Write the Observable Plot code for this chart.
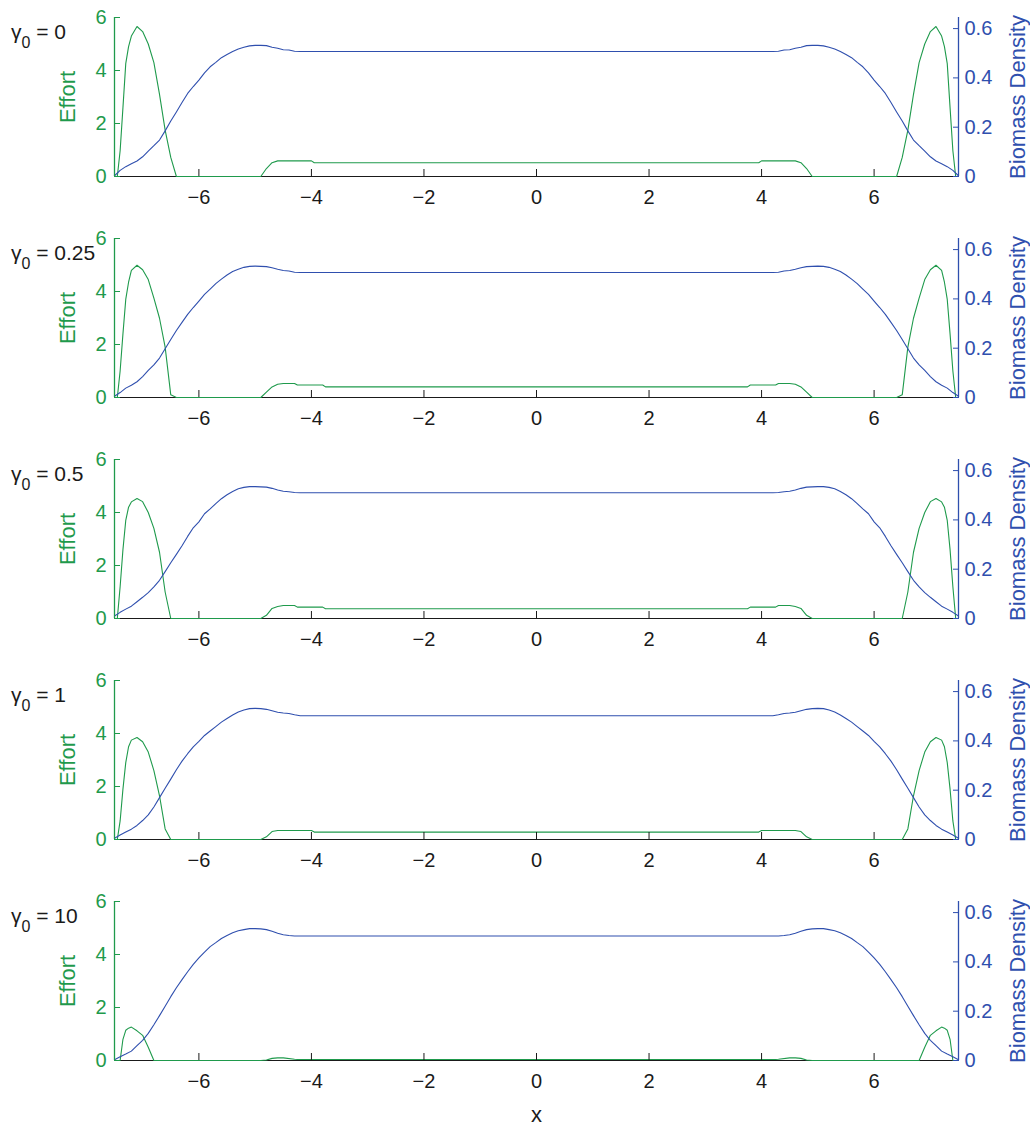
<!DOCTYPE html>
<html><head><meta charset="utf-8">
<script src="https://cdn.jsdelivr.net/npm/d3@7"></script>
<script src="https://cdn.jsdelivr.net/npm/@observablehq/plot@0.6"></script>
<style>
body{margin:0;background:#fff;}
#chart svg{display:block}
</style>
</head><body><div id="chart"></div>
<script>
// ---------- data ----------
const gammaLabels = ["0", "0.25", "0.5", "1", "10"];
const xDomain = [-7.5, 7.5];
const xTicks = [-6, -4, -2, 0, 2, 4, 6];
const effortTicks = [0, 2, 4, 6];
const biomassTicks = [0, 0.2, 0.4, 0.6];
const effortMax = 6;
const biomassMax = 0.645;

const effortX = [-7.5,-7.45,-7.4,-7.35,-7.3,-7.25,-7.2,-7.1,-7.0,-6.9,-6.8,-6.7,-6.6,-6.5,-6.4,-4.9,-4.8,-4.7,-4.6,-4.5,-4.3,-4.25,-4.0,-3.95,-3.8,-3.75,
  3.75,3.8,3.95,4.0,4.25,4.3,4.5,4.6,4.7,4.8,4.9,6.4,6.5,6.6,6.7,6.8,6.9,7.0,7.1,7.2,7.25,7.3,7.35,7.4,7.45,7.5];

const effort1 = [0,0,0.97,2.6,4.26,4.9,5.3,5.66,5.47,5.0,4.3,3.1,1.75,0.72,0, 0,0.3,0.52,0.59,0.59,0.59,0.59,0.59,0.52,0.52,0.52,
  0.52,0.52,0.52,0.59,0.59,0.59,0.59,0.59,0.52,0.3,0, 0,0.72,1.75,3.1,4.3,5.0,5.47,5.66,5.3,4.9,4.26,2.6,0.97,0,0];
const effort2 = [0,0,1.0,2.4,3.7,4.35,4.8,4.99,4.82,4.45,3.75,2.99,1.9,0.1,0, 0,0.2,0.4,0.5,0.53,0.53,0.47,0.47,0.47,0.47,0.40,
  0.40,0.47,0.47,0.47,0.47,0.53,0.53,0.5,0.4,0.2,0, 0,0.1,1.9,2.99,3.75,4.45,4.82,4.99,4.8,4.35,3.7,2.4,1.0,0,0];
const effort3 = [0,0,1.2,2.6,3.7,4.2,4.4,4.53,4.41,4.0,3.4,2.5,1.0,0,0, 0,0.12,0.38,0.45,0.49,0.49,0.43,0.43,0.43,0.43,0.37,
  0.37,0.43,0.43,0.43,0.43,0.49,0.49,0.45,0.38,0.12,0, 0,0,1.0,2.5,3.4,4.0,4.41,4.53,4.4,4.2,3.7,2.6,1.2,0,0];
const effort4 = [0,0,0.7,1.9,2.9,3.5,3.75,3.85,3.69,3.3,2.6,1.65,0.4,0,0, 0,0.1,0.3,0.34,0.34,0.34,0.34,0.34,0.28,0.28,0.28,
  0.28,0.28,0.28,0.34,0.34,0.34,0.34,0.34,0.3,0.1,0, 0,0,0.4,1.65,2.6,3.3,3.69,3.85,3.75,3.5,2.9,1.9,0.7,0,0];
const effort5 = [0,0,0,0.8,1.14,1.22,1.26,1.12,0.95,0.5,0,0,0,0,0, 0,0.02,0.08,0.1,0.1,0.05,0.04,0.04,0.04,0.04,0.04,
  0.04,0.04,0.04,0.04,0.04,0.05,0.1,0.1,0.08,0.02,0, 0,0,0,0,0,0.5,0.95,1.12,1.26,1.22,1.14,0.8,0,0,0];

const biomassX = [-7.5,-7.4,-7.3,-7.2,-7.1,-7.0,-6.9,-6.8,-6.7,-6.6,-6.5,-6.4,-6.3,-6.2,-6.1,-6.0,-5.9,-5.8,-5.7,-5.6,-5.5,-5.4,-5.3,-5.2,-5.1,-5.0,-4.9,-4.8,-4.7,-4.6,-4.5,-4.4,-4.3,-4.2,
  4.2,4.3,4.4,4.5,4.6,4.7,4.8,4.9,5.0,5.1,5.2,5.3,5.4,5.5,5.6,5.7,5.8,5.9,6.0,6.1,6.2,6.3,6.4,6.5,6.6,6.7,6.8,6.9,7.0,7.1,7.2,7.3,7.4,7.5];

const biomass1 = [0.003,0.025,0.04,0.052,0.063,0.08,0.103,0.125,0.148,0.185,0.225,0.262,0.3,0.337,0.365,0.391,0.42,0.445,0.463,0.482,0.495,0.507,0.517,0.524,0.53,0.532,0.532,0.531,0.524,0.52,0.514,0.513,0.508,0.507,
  0.507,0.508,0.513,0.514,0.52,0.524,0.531,0.532,0.532,0.53,0.524,0.517,0.507,0.495,0.482,0.463,0.445,0.42,0.391,0.365,0.337,0.3,0.262,0.225,0.185,0.148,0.125,0.103,0.08,0.063,0.052,0.04,0.025,0.003];
const biomass2 = [0.005,0.02,0.038,0.05,0.064,0.085,0.11,0.132,0.16,0.198,0.235,0.272,0.305,0.337,0.365,0.391,0.418,0.44,0.462,0.48,0.497,0.511,0.52,0.528,0.532,0.533,0.532,0.531,0.526,0.52,0.515,0.513,0.508,0.507,
  0.507,0.508,0.513,0.515,0.52,0.526,0.531,0.532,0.533,0.532,0.528,0.52,0.511,0.497,0.48,0.462,0.44,0.418,0.391,0.365,0.337,0.305,0.272,0.235,0.198,0.16,0.132,0.11,0.085,0.064,0.05,0.038,0.02,0.005];
const biomass3 = [0.01,0.025,0.038,0.05,0.068,0.086,0.105,0.128,0.155,0.19,0.226,0.26,0.295,0.333,0.368,0.392,0.425,0.445,0.466,0.486,0.502,0.515,0.526,0.532,0.535,0.535,0.534,0.533,0.528,0.521,0.516,0.514,0.511,0.51,
  0.51,0.511,0.514,0.516,0.521,0.528,0.533,0.534,0.535,0.535,0.532,0.526,0.515,0.502,0.486,0.466,0.445,0.425,0.392,0.368,0.333,0.295,0.26,0.226,0.19,0.155,0.128,0.105,0.086,0.068,0.05,0.038,0.025,0.01];
const biomass4 = [0.005,0.018,0.03,0.042,0.057,0.077,0.1,0.132,0.17,0.208,0.245,0.283,0.318,0.348,0.376,0.398,0.422,0.44,0.458,0.476,0.491,0.505,0.517,0.525,0.531,0.532,0.531,0.528,0.522,0.516,0.513,0.511,0.506,0.502,
  0.502,0.506,0.511,0.513,0.516,0.522,0.528,0.531,0.532,0.531,0.525,0.517,0.505,0.491,0.476,0.458,0.44,0.422,0.398,0.376,0.348,0.318,0.283,0.245,0.208,0.17,0.132,0.1,0.077,0.057,0.042,0.03,0.018,0.005];
const biomass5 = [0.003,0.015,0.026,0.038,0.06,0.082,0.11,0.145,0.182,0.22,0.259,0.295,0.328,0.36,0.39,0.416,0.44,0.462,0.478,0.495,0.507,0.518,0.526,0.531,0.535,0.535,0.534,0.531,0.524,0.516,0.51,0.507,0.505,0.505,
  0.505,0.505,0.507,0.51,0.516,0.524,0.531,0.534,0.535,0.535,0.531,0.526,0.518,0.507,0.495,0.478,0.462,0.44,0.416,0.39,0.36,0.328,0.295,0.259,0.22,0.182,0.145,0.11,0.082,0.06,0.038,0.026,0.015,0.003];

const effortSeries = [effort1, effort2, effort3, effort4, effort5];
const biomassSeries = [biomass1, biomass2, biomass3, biomass4, biomass5];

// ---------- drawing ----------
const GREEN = "#1f9a4c";
const BLUE = "#2f4fae";
const INK = "#1a1a1a";
const FONT = "'Liberation Sans', Arial, Helvetica, sans-serif";
const k = effortMax / biomassMax; // map biomass onto the effort scale (dual axis)
const panelHeights = [221, 221, 221, 221, 244];
const root = document.getElementById("chart");

gammaLabels.forEach((g, i) => {
  const H = panelHeights[i];
  const last = i === gammaLabels.length - 1;
  const eff = effortX.map((x, j) => ({x, v: effortSeries[i][j]}));
  const bio = biomassX.map((x, j) => ({x, v: biomassSeries[i][j] * k}));
  const chart = Plot.plot({
    width: 1030,
    height: H,
    marginLeft: 114,
    marginRight: 72,
    marginTop: 17,
    marginBottom: H - 17 - 159,
    x: {domain: xDomain},
    y: {domain: [0, effortMax]},
    style: {fontFamily: FONT, fontSize: "20px", background: "white", color: INK, overflow: "visible"},
    marks: [
      Plot.ruleY([0], {stroke: INK, strokeWidth: 1.2}),
      Plot.line(eff, {x: "x", y: "v", stroke: GREEN, strokeWidth: 1.1}),
      Plot.line(bio, {x: "x", y: "v", stroke: BLUE, strokeWidth: 1.1}),
      Plot.ruleX([xDomain[0]], {stroke: GREEN, strokeWidth: 1.3}),
      Plot.ruleX([xDomain[1]], {stroke: BLUE, strokeWidth: 1.3}),
      Plot.axisX(xTicks, {anchor: "bottom", tickSize: -7, tickPadding: 20, color: INK, fontSize: 20, label: null}),
      Plot.axisY(effortTicks, {anchor: "left", tickSize: -6, tickPadding: 14, color: GREEN, fontSize: 20, label: null}),
      Plot.axisY(biomassTicks.map(v => v * k), {
        anchor: "right", tickSize: -6, tickPadding: 12, color: BLUE, fontSize: 20, label: null,
        tickFormat: d => { const v = Math.round(d / k * 10) / 10; return v === 0 ? "0" : String(v); }
      }),
      Plot.text(["Effort"], {text: d => d, frameAnchor: "left", dx: -47, rotate: -90, textAnchor: "middle", lineAnchor: "middle", fill: GREEN, fontSize: 22}),
      Plot.text(["Biomass Density"], {text: d => d, frameAnchor: "right", dx: 59, rotate: -90, textAnchor: "middle", lineAnchor: "middle", fill: BLUE, fontSize: 22}),
      last ? Plot.text(["x"], {text: d => d, frameAnchor: "bottom", dy: 54, textAnchor: "middle", lineAnchor: "middle", fill: INK, fontSize: 22}) : null
    ]
  });
  const svg = d3.select(chart);
  const t = svg.append("text")
    .attr("x", 11).attr("y", 39)
    .attr("fill", INK)
    .attr("text-anchor", "start")
    .style("font-family", FONT)
    .style("font-size", "21px")
    .style("white-space", "pre");
  t.append("tspan").text("γ");
  t.append("tspan").attr("dy", 9).style("font-size", "16px").text("0");
  t.append("tspan").attr("dy", -9).text(" = " + g);
  root.append(chart);
});
</script>
</body></html>
